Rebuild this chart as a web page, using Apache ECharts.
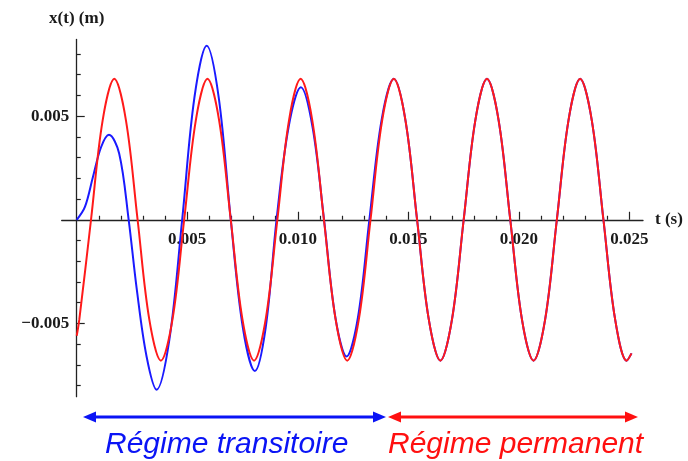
<!DOCTYPE html>
<html>
<head>
<meta charset="utf-8">
<script src="https://cdn.jsdelivr.net/npm/echarts@6/dist/echarts.min.js"></script>
<style>html,body{margin:0;padding:0;background:#fff;}#c{width:688px;height:461px;}</style>
</head>
<body>
<div id="c"></div>
<script>
// Steady-state response (red), time in s, displacement in m
var tRed = [0, 0.000119, 0.000646, 0.001173, 0.001700, 0.002227, 0.002754, 0.003281, 0.003808, 0.004334,
  0.004861, 0.005388, 0.005915, 0.006442, 0.006969, 0.007496, 0.008023, 0.008550, 0.009077, 0.009604,
  0.010130, 0.010657, 0.011184, 0.011711, 0.012238, 0.012765, 0.013292, 0.013819, 0.014346, 0.014873,
  0.015399, 0.015926, 0.016453, 0.016980, 0.017507, 0.018034, 0.018561, 0.019088, 0.019615, 0.020141,
  0.020668, 0.021195, 0.021722, 0.022249, 0.022776, 0.023303, 0.023830, 0.024357, 0.024884, 0.025100];
var xRed = [-0.0056, -0.0048, 0, 0.0048, 0.0068, 0.0048, 0, -0.0048, -0.0068, -0.0048,
  0, 0.0048, 0.0068, 0.0048, 0, -0.0048, -0.0068, -0.0048, 0, 0.0048,
  0.0068, 0.0048, 0, -0.0048, -0.0068, -0.0048, 0, 0.0048, 0.0068, 0.0048,
  0, -0.0048, -0.0068, -0.0048, 0, 0.0048, 0.0068, 0.0048, 0, -0.0048,
  -0.0068, -0.0048, 0, 0.0048, 0.0068, 0.0048, 0, -0.0048, -0.0068, -0.00645];

// Full response (blue): transient then steady state
var tBlue = [0, 0.00037, 0.00073, 0.00110, 0.00146, 0.00192, 0.00235, 0.00271, 0.00316, 0.003615,
  0.00419, 0.00477, 0.005325, 0.00588, 0.006425, 0.00697, 0.007515, 0.00806, 0.00855, 0.00904,
  0.00959, 0.01014, 0.010665, 0.01119, 0.01170, 0.01221, 0.012725, 0.01324, 0.01379, 0.014346,
  0.014873, 0.015399, 0.015926, 0.016453, 0.016980, 0.017507, 0.018034, 0.018561, 0.019088, 0.019615,
  0.020141, 0.020668, 0.021195, 0.021722, 0.022249, 0.022776, 0.023303, 0.023830, 0.024357, 0.024884, 0.025100];
var xBlue = [0, 0.00062, 0.00205, 0.0035, 0.0041, 0.0032, 0, -0.0033, -0.0066, -0.0082,
  -0.0058, 0, 0.0059, 0.0084, 0.0059, 0, -0.0052, -0.0073, -0.0052, 0,
  0.0045, 0.0064, 0.0045, 0, -0.0047, -0.0066, -0.0047, 0, 0.0048, 0.0068,
  0.0048, 0, -0.0048, -0.0068, -0.0048, 0, 0.0048, 0.0068, 0.0048, 0,
  -0.0048, -0.0068, -0.0048, 0, 0.0048, 0.0068, 0.0048, 0, -0.0048, -0.0068, -0.00645];

var xTicks = [0.005, 0.010, 0.015, 0.020, 0.025];
var yTicks = [-0.005, 0.005];
var labelTransient = 'Régime transitoire';
var labelPermanent = 'Régime permanent';

function zip(a, b) { return a.map(function (v, i) { return [v, b[i]]; }); }

var axisColor = '#222';
var labelFont = { fontFamily: 'Liberation Serif', fontWeight: 'bold', fontSize: 17, color: '#1a1a1a' };

var chart = echarts.init(document.getElementById('c'), null, { renderer: 'canvas' });
chart.setOption({
  animation: false,
  backgroundColor: '#fff',
  grid: { left: 61.7, right: 45, top: 39.5, bottom: 64.3, containLabel: false },
  xAxis: {
    type: 'value', min: -0.00068, max: 0.02562, splitNumber: 5,
    name: 't (s)', nameLocation: 'end', nameGap: 12,
    nameTextStyle: Object.assign({}, labelFont, { verticalAlign: 'middle', padding: [3, 0, 0, 0] }),
    axisLine: { onZero: true, lineStyle: { color: axisColor, width: 1.3 } },
    axisTick: { show: true, inside: true, length: 8, customValues: xTicks, lineStyle: { color: axisColor, width: 1.2 } },
    minorTick: { show: true, splitNumber: 5, length: 4, lineStyle: { color: axisColor, width: 1.2 } },
    axisLabel: Object.assign({ customValues: xTicks, margin: -165.5, formatter: function (v) { return v.toFixed(3); } }, labelFont),
    splitLine: { show: false }, minorSplitLine: { show: false }
  },
  yAxis: {
    type: 'value', min: -0.00854, max: 0.0087, splitNumber: 3,
    name: 'x(t) (m)', nameLocation: 'end', nameGap: 12,
    nameTextStyle: labelFont,
    axisLine: { onZero: true, lineStyle: { color: axisColor, width: 1.3 } },
    axisTick: { show: true, inside: true, length: 8, customValues: yTicks, lineStyle: { color: axisColor, width: 1.2 } },
    minorTick: { show: true, splitNumber: 5, length: 4, lineStyle: { color: axisColor, width: 1.2 } },
    axisLabel: Object.assign({ customValues: yTicks, margin: -7.5, formatter: function (v) { return v < 0 ? '\u2212' + Math.abs(v).toFixed(3) : v.toFixed(3); } }, labelFont),
    splitLine: { show: false }, minorSplitLine: { show: false }
  },
  series: [
    { type: 'line', data: zip(tBlue, xBlue), smooth: 0.35, showSymbol: false, lineStyle: { color: '#1a1aff', width: 2 }, z: 2 },
    { type: 'line', data: zip(tRed, xRed), smooth: 0.35, showSymbol: false, lineStyle: { color: '#ff1a1a', width: 2 }, z: 3 }
  ],
  graphic: [
    { type: 'line', shape: { x1: 92, y1: 417, x2: 376, y2: 417 }, style: { stroke: '#0a14f5', lineWidth: 3 } },
    { type: 'polygon', shape: { points: [[83, 417], [96, 411.5], [96, 422.5]] }, style: { fill: '#0a14f5' } },
    { type: 'polygon', shape: { points: [[386, 417], [373, 411.5], [373, 422.5]] }, style: { fill: '#0a14f5' } },
    { type: 'line', shape: { x1: 398, y1: 417, x2: 628, y2: 417 }, style: { stroke: '#ff1010', lineWidth: 3 } },
    { type: 'polygon', shape: { points: [[388, 417], [401, 411.5], [401, 422.5]] }, style: { fill: '#ff1010' } },
    { type: 'polygon', shape: { points: [[638, 417], [625, 411.5], [625, 422.5]] }, style: { fill: '#ff1010' } },
    { type: 'text', x: 105, y: 445, style: { text: labelTransient, font: 'italic 30px "Liberation Sans", Arial, sans-serif', fill: '#0a14f5', verticalAlign: 'middle', align: 'left' } },
    { type: 'text', x: 388, y: 445, style: { text: labelPermanent, font: 'italic 30px "Liberation Sans", Arial, sans-serif', fill: '#ff1010', verticalAlign: 'middle', align: 'left' } }
  ]
});
</script>
</body>
</html>
